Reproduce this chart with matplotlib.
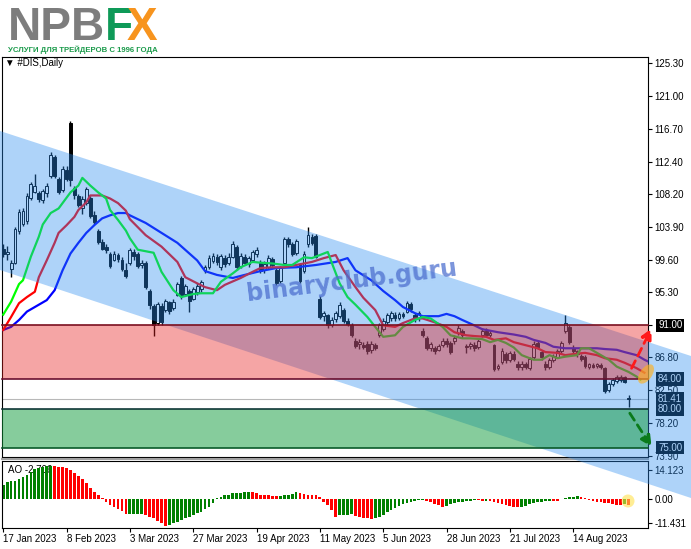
import numpy as np
import matplotlib.pyplot as plt
import matplotlib.transforms as mtransforms
from matplotlib.patches import Polygon, Rectangle, Ellipse, Circle, FancyArrowPatch
from matplotlib.lines import Line2D

plt.rcParams['font.family'] = ['Liberation Sans', 'DejaVu Sans']

#%% Datos (DIS, diario)
open_ = [101.0, 100.3, 98.4, 99.2, 103.4, 104.3, 104.6, 107.7, 108.5, 108.3,
         107.4, 108.3, 110.5, 113.0, 110.2, 108.7, 111.3, 117.5, 109.0, 107.9,
         106.4, 107.0, 107.7, 105.5, 103.4, 101.9, 101.2, 100.4, 99.6, 100.2,
         99.6, 98.3, 99.1, 100.6, 100.3, 98.9, 99.2, 95.5, 93.5, 91.3,
         93.5, 93.0, 94.0, 93.3, 95.0, 97.2, 95.1, 95.5, 94.5, 95.3,
         95.7, 98.2, 98.7, 99.4, 100.0, 98.6, 99.8, 99.2, 100.0, 101.2,
         98.8, 100.0, 99.0, 99.6, 100.3, 99.3, 98.2, 98.7, 99.7, 98.3,
         96.8, 99.2, 102.3, 101.6, 100.5, 98.9, 98.1, 101.6, 102.6, 102.7,
         94.5, 92.2, 92.3, 91.1, 91.8, 92.2, 93.0, 91.6, 91.0, 89.0,
         88.5, 88.4, 88.6, 87.8, 88.4, 89.8, 90.5, 91.5, 91.9, 92.4,
         91.9, 92.5, 92.8, 93.8, 92.3, 91.9, 90.3, 89.3, 88.0, 88.0,
         87.8, 88.4, 88.9, 88.7, 88.9, 90.0, 90.2, 88.3, 88.3, 88.4,
         88.2, 89.8, 90.3, 89.8, 88.4, 85.4, 86.2, 87.2, 86.5, 87.3,
         86.0, 85.5, 85.9, 85.4, 86.8, 88.7, 87.5, 86.0, 85.5, 86.5,
         86.9, 87.6, 90.2, 90.8, 88.1, 87.6, 87.0, 86.9, 85.6, 85.8,
         85.7, 85.8, 85.4, 82.6, 83.3, 83.7, 83.9, 84.2, 81.5]
high = [101.6, 101.4, 99.5, 103.9, 106.2, 106.4, 108.3, 109.8, 110.8, 108.6,
        108.9, 109.6, 113.7, 113.3, 110.4, 111.9, 111.8, 117.7, 109.2, 108.2,
        107.9, 109.1, 107.9, 105.9, 103.6, 102.3, 101.6, 100.6, 100.7, 100.5,
        99.9, 99.1, 101.1, 101.0, 100.6, 99.5, 99.4, 95.7, 93.8, 94.1,
        93.9, 94.5, 94.2, 94.4, 96.7, 97.5, 96.4, 95.8, 96.0, 96.5,
        97.0, 98.9, 100.2, 100.5, 100.4, 100.4, 100.2, 100.5, 102.0, 101.5,
        100.5, 100.3, 100.1, 100.8, 101.3, 99.6, 99.4, 100.2, 100.0, 98.5,
        98.8, 102.6, 102.6, 101.9, 102.3, 99.2, 100.7, 103.9, 103.0, 103.0,
        94.8, 92.9, 92.5, 92.1, 92.9, 94.0, 93.3, 91.9, 91.3, 89.3,
        89.2, 88.8, 88.9, 88.9, 88.7, 91.3, 91.9, 92.6, 92.9, 92.7,
        92.8, 92.8, 94.2, 94.1, 92.6, 92.9, 90.6, 89.6, 88.8, 88.3,
        88.6, 89.3, 89.3, 89.0, 89.7, 91.0, 90.5, 88.6, 88.8, 88.8,
        89.2, 90.7, 90.6, 90.4, 88.6, 86.0, 88.0, 87.5, 87.7, 87.6,
        86.3, 86.3, 86.2, 86.9, 88.9, 89.0, 87.8, 86.3, 86.7, 87.3,
        87.9, 89.0, 92.3, 91.0, 88.4, 87.8, 87.3, 87.1, 86.1, 86.1,
        86.1, 86.1, 85.6, 83.6, 84.1, 84.5, 84.5, 84.4, 81.9]
low = [99.9, 99.6, 97.3, 99.0, 103.0, 104.0, 104.2, 107.4, 108.3, 107.2,
       107.0, 107.8, 110.3, 110.3, 108.2, 108.5, 109.9, 109.2, 107.6, 106.5,
       105.6, 106.7, 105.1, 104.2, 101.7, 100.8, 100.5, 98.5, 99.4, 99.3,
       98.1, 97.2, 98.9, 99.6, 98.5, 98.5, 95.8, 93.2, 89.6, 91.0,
       91.1, 92.8, 92.5, 93.0, 94.8, 94.5, 94.9, 92.7, 94.3, 95.0,
       95.4, 97.8, 98.4, 99.1, 98.9, 98.3, 98.7, 98.9, 99.8, 98.3,
       98.5, 98.9, 98.7, 99.3, 100.0, 97.8, 97.9, 98.4, 98.5, 96.3,
       96.5, 99.0, 101.3, 100.1, 100.2, 96.5, 97.8, 101.3, 101.5, 99.8,
       91.8, 91.6, 90.7, 90.8, 91.5, 92.0, 91.3, 90.9, 89.5, 88.0,
       87.9, 87.9, 87.3, 87.4, 87.8, 89.5, 90.2, 91.1, 91.6, 91.6,
       91.7, 91.9, 92.6, 92.8, 91.5, 91.6, 89.5, 87.8, 87.7, 87.3,
       87.6, 88.2, 88.2, 87.2, 88.6, 89.8, 89.4, 87.4, 87.9, 87.7,
       87.9, 89.5, 89.5, 89.5, 85.0, 85.1, 86.0, 86.1, 86.2, 86.3,
       85.2, 85.2, 85.3, 85.2, 86.6, 87.9, 86.5, 85.2, 85.3, 86.2,
       86.7, 87.4, 90.0, 88.5, 87.3, 86.8, 86.3, 85.4, 85.3, 85.4,
       85.4, 85.3, 82.1, 82.3, 83.1, 83.5, 83.6, 83.4, 80.3]
close = [100.3, 100.6, 99.2, 103.6, 105.8, 106.0, 107.9, 109.5, 109.2, 107.5,
         108.6, 109.3, 113.3, 110.6, 108.5, 111.5, 110.2, 110.0, 108.0, 106.8,
         107.6, 108.8, 105.3, 104.5, 101.9, 101.0, 100.8, 98.8, 100.4, 99.7,
         98.4, 97.5, 100.8, 100.1, 98.8, 99.2, 96.0, 93.6, 91.0, 93.8,
         91.5, 94.2, 92.9, 94.1, 96.4, 94.8, 96.1, 94.2, 95.7, 96.2,
         96.7, 98.6, 99.8, 100.1, 99.3, 100.1, 99.0, 100.0, 101.7, 98.6,
         100.1, 99.2, 99.8, 100.6, 100.9, 98.1, 99.0, 99.8, 98.9, 96.6,
         98.5, 102.3, 101.6, 100.4, 102.0, 96.8, 100.4, 102.8, 101.8, 100.0,
         92.1, 92.6, 91.0, 91.7, 92.6, 93.6, 91.6, 91.2, 89.8, 88.3,
         88.8, 88.2, 87.6, 88.5, 88.1, 91.0, 91.6, 92.3, 92.6, 91.9,
         92.5, 92.2, 93.9, 93.1, 91.8, 92.6, 89.8, 88.0, 88.5, 87.6,
         88.3, 89.0, 88.5, 87.5, 89.4, 90.7, 89.7, 88.2, 88.5, 88.0,
         88.9, 90.3, 89.8, 90.0, 85.3, 85.7, 87.7, 86.4, 87.4, 86.6,
         85.5, 86.0, 85.6, 86.6, 88.6, 88.2, 86.8, 85.5, 86.4, 87.0,
         87.6, 88.7, 91.3, 88.8, 87.6, 87.2, 86.6, 85.7, 85.9, 85.6,
         85.9, 85.5, 82.4, 83.3, 83.9, 84.2, 84.2, 83.6, 81.4]

# Alligator (desplazado hacia adelante)
jaw_x = [0, 2, 4, 6, 8, 11, 13, 15, 17, 19, 21, 23, 25, 27, 29, 31, 32, 36, 40, 44,
         49, 51, 54, 58, 61, 65, 69, 74, 79, 84, 87, 89, 93, 96, 99, 101, 104, 106, 110, 112,
         114, 116, 119, 121, 125, 129, 132, 134, 137, 139, 142, 145, 150, 152, 155, 157, 160, 162, 164]
jaw_y = [90.4, 90.8, 91.7, 92.8, 93.4, 94.3, 95.6, 98.2, 100.4, 101.8, 103.1, 104.1, 105.0, 105.4, 105.7, 105.7, 105.4, 104.4, 103.1, 101.8,
         99.5, 98.1, 97.6, 97.2, 97.6, 98.1, 98.5, 98.6, 98.9, 99.3, 99.8, 98.2, 96.9, 95.5, 94.3, 93.4, 92.6, 92.2, 92.2, 92.5,
         92.2, 91.7, 91.0, 90.5, 90.1, 89.8, 89.5, 89.1, 88.7, 88.2, 88.0, 88.0, 88.0, 87.9, 87.8, 87.5, 87.1, 86.5, 86.0]
teeth_x = [0, 2, 4, 6, 8, 9, 11, 13, 14, 16, 18, 19, 21, 22, 25, 27, 29, 31, 32, 36,
           40, 44, 46, 49, 51, 54, 56, 60, 63, 65, 68, 71, 74, 78, 81, 84, 86, 89, 91, 94,
           96, 99, 101, 104, 106, 109, 112, 114, 117, 119, 122, 124, 127, 129, 132, 135, 137, 140, 142, 145,
           147, 150, 152, 155, 157, 160, 162]
teeth_y = [90.4, 92.1, 93.9, 94.7, 95.4, 97.3, 99.5, 101.8, 103.1, 104.1, 105.2, 106.1, 107.1, 108.0, 108.0, 107.6, 107.0, 106.0, 104.9, 102.8,
           101.3, 99.3, 97.3, 96.5, 96.0, 95.6, 96.3, 97.2, 98.0, 98.5, 98.6, 98.6, 98.9, 99.3, 99.8, 100.2, 98.2, 96.0, 94.6, 93.0,
           91.0, 90.8, 91.3, 91.9, 91.9, 91.4, 90.8, 90.1, 89.7, 89.6, 89.5, 89.1, 89.3, 88.8, 88.4, 88.0, 87.5, 87.4, 87.1, 87.3,
           87.4, 87.1, 86.7, 86.5, 86.1, 85.4, 84.8]
lips_x = [0, 2, 4, 5, 7, 9, 10, 12, 14, 16, 17, 19, 20, 22, 24, 26, 27, 29, 31, 32,
          34, 38, 40, 43, 45, 48, 50, 53, 55, 58, 60, 63, 65, 68, 71, 73, 76, 78, 82, 83,
          85, 87, 89, 92, 94, 96, 99, 101, 104, 106, 108, 111, 113, 116, 118, 121, 123, 125, 127, 129,
          131, 134, 136, 138, 140, 142, 145, 146, 148, 150, 153, 155, 158, 160, 161]
lips_y = [92.4, 94.1, 96.4, 96.9, 100.0, 102.6, 104.2, 105.7, 106.3, 107.7, 108.4, 109.3, 110.3, 109.3, 108.4, 107.6, 106.1, 104.8, 103.4, 102.4,
          100.9, 100.5, 98.0, 95.6, 94.7, 95.1, 95.2, 95.2, 96.7, 97.8, 98.6, 99.3, 99.2, 99.1, 98.9, 98.9, 99.9, 99.8, 100.6, 99.2,
          96.5, 94.7, 93.7, 92.1, 90.8, 89.5, 89.7, 90.8, 91.7, 92.1, 91.9, 90.8, 89.7, 89.3, 89.3, 89.2, 88.8, 89.1, 88.7, 88.1,
          87.1, 86.5, 86.5, 87.1, 86.7, 86.9, 87.1, 88.0, 88.0, 87.4, 86.5, 85.6, 84.9, 84.3, 83.9]

# Awesome Oscillator
ao = [6.8, 8.4, 8.7, 8.9, 9.9, 10.8, 11.9, 13.2, 14.4, 15.1,
      15.5, 15.9, 16.1, 15.8, 15.6, 15.3, 14.9, 14.2, 12.8, 11.4,
      9.8, 7.8, 5.6, 3.7, 2.0, 0.4, -1.1, -2.7, -3.7, -4.7,
      -5.8, -7.1, -7.0, -6.95, -6.9, -6.85, -7.4, -8.3, -9.2, -10.2,
      -11.3, -12.6, -12.4, -11.6, -10.8, -10.0, -9.2, -8.4, -7.6, -6.8,
      -5.9, -4.8, -3.5, -1.9, 0.4, 1.2, 2.0, 2.3, 2.8, 3.0,
      3.2, 3.3, 3.4, 3.3, 2.8, 2.3, 2.0, 1.9, 1.7, 1.6,
      1.8, 2.2, 2.3, 2.5, 3.3, 2.8, 2.4, 2.3, 2.2, 2.0,
      1.2, -1.1, -2.7, -5.1, -8.3, -7.6, -7.5, -7.4, -7.3, -8.0,
      -8.5, -8.9, -9.2, -9.4, -9.1, -8.3, -7.4, -6.2, -5.1, -4.0,
      -3.0, -2.4, -1.6, -1.1, -0.8, -0.5, -0.3, -0.8, -1.4, -2.1,
      -2.7, -3.5, -3.0, -2.4, -1.9, -1.4, -1.1, -0.8, -0.6, -0.4,
      -0.5, -0.7, -0.6, -0.8, -1.1, -1.6, -2.2, -2.7, -3.2, -3.5,
      -3.8, -3.6, -3.0, -2.4, -1.9, -1.4, -1.1, -0.8, -0.7, -0.8,
      -0.9, 0.1, 0.6, 1.0, 1.3, 1.4, 1.0, 0.6, -0.2, -0.7,
      -1.1, -1.4, -1.7, -2.0, -2.3, -2.6, -2.8, -2.5, -2.706]

date_pos = [0, 16, 32, 48, 64, 80, 96, 112, 128, 144]
date_lbl = ['17 Jan 2023', '8 Feb 2023', '3 Mar 2023', '27 Mar 2023', '19 Apr 2023',
            '11 May 2023', '5 Jun 2023', '28 Jun 2023', '21 Jul 2023', '14 Aug 2023']

price_ticks = [125.30, 121.00, 116.70, 112.40, 108.20, 103.90, 99.60, 95.30,
               91.00, 86.80, 82.50, 78.20, 73.90]
ao_ticks = [14.123, 0.0, -11.431]
ao_tick_lbl = ['14.123', '0.00', '-11.431']

resist = 91.00
support = 84.00
target_lo = 75.00
target_hi = 80.00
bid = 81.41
boxed = [resist, support, bid, target_hi, target_lo]

#%% Figura
W, H = 691, 549
fig = plt.figure(figsize=(W / 100, H / 100), dpi=100)
fig.patch.set_facecolor('white')


def px(x, y):
    # pixel de imagen -> pulgadas (dpi_scale_trans)
    return (x / 100, (H - y) / 100)


ax = fig.add_axes([2 / W, 1 - 457 / H, 646 / W, 400 / H])
ax.set_facecolor('none')
ao_ax = fig.add_axes([2 / W, 1 - 528 / H, 646 / W, 67 / H])

x0, x1 = -0.3, 162.9
ax.set_xlim(x0, x1)
ax.set_ylim(73.77, 126.12)

idx = np.arange(len(close))
o = np.array(open_)
c = np.array(close)
up = c >= o

ax.axhline(bid, color='#b8b8b8', lw=0.8, zorder=1)
ax.vlines(idx, low, high, color='black', lw=1.0, zorder=2)
ax.bar(idx, np.maximum(np.abs(c - o), 0.12), bottom=np.minimum(o, c), width=0.72,
       color=['white' if u else 'black' for u in up], edgecolor='black',
       linewidth=0.7, zorder=3)

ax.plot(jaw_x, jaw_y, color='#0000ff', lw=1.6, zorder=4)
ax.plot(teeth_x, teeth_y, color='#ff0000', lw=1.6, zorder=4)
ax.plot(lips_x, lips_y, color='#00ff00', lw=1.6, zorder=4)

# la etiqueta normal de 91.00 queda tapada por la caja
ax.set_yticks(price_ticks)
ax.set_yticklabels(['' if t in boxed else '%.2f' % t for t in price_ticks])
ax.tick_params(axis='y', which='both', left=False, labelleft=False, right=True,
               labelright=True, direction='out', length=3, pad=1.5, labelsize=7)
ax.tick_params(axis='x', bottom=False, labelbottom=False)
for s in ax.spines.values():
    s.set_color('black')
    s.set_linewidth(0.8)

# etiquetas en caja del eje derecho
trans = mtransforms.blended_transform_factory(ax.transAxes, ax.transData)
for v in boxed:
    ax.text(1.0155, v, '%.2f' % v, transform=trans, color='white', fontsize=7,
            va='center', ha='left', zorder=6, clip_on=False,
            bbox=dict(boxstyle='square,pad=0.18', fc='black', ec='none'))

#%% AO
ao_ax.set_xlim(x0, x1)
ao_ax.set_ylim(-13.8, 18.4)
ao_col = ['#008000' if (i == 0 or ao[i] > ao[i - 1]) else '#ff0000' for i in range(len(ao))]
ao_ax.bar(idx, ao, width=0.7, color=ao_col, zorder=2)
ao_ax.text(6 / 646, 0.866, 'AO -2.706', transform=ao_ax.transAxes, fontsize=7,
           va='center', ha='left', zorder=1)
ao_ax.set_yticks(ao_ticks)
ao_ax.set_yticklabels(ao_tick_lbl)
ao_ax.tick_params(axis='y', left=False, labelleft=False, right=True, labelright=True,
                  direction='out', length=3, pad=1.5, labelsize=7)
ao_ax.set_xticks(date_pos)
ao_ax.set_xticklabels(date_lbl)
ao_ax.tick_params(axis='x', direction='out', length=3, pad=1.5, labelsize=7)
for lbl in ao_ax.get_xticklabels():
    lbl.set_ha('left')
for s in ao_ax.spines.values():
    s.set_color('black')
    s.set_linewidth(0.8)

# separador entre paneles
fig.add_artist(Line2D([2 / 100, 648 / 100], [(H - 459) / 100] * 2,
                      transform=fig.dpi_scale_trans, color='#a0a0a0', lw=1.5, zorder=1))

#%% Objetos sobre el gráfico
band = Polygon([px(0, 131), px(691, 356), px(691, 498), px(0, 270)], closed=True,
               transform=fig.dpi_scale_trans, facecolor='#2a8cf0', alpha=0.38,
               edgecolor='none', zorder=10)
fig.add_artist(band)

fig.add_artist(Rectangle((x0, support), x1 - x0, resist - support, transform=ax.transData,
                         facecolor='#e61e1e', alpha=0.4, edgecolor='none', zorder=11))
fig.add_artist(Rectangle((x0, target_lo), x1 - x0, target_hi - target_lo, transform=ax.transData,
                         facecolor='#0f9a3a', alpha=0.5, edgecolor='none', zorder=11))
for v, col in [(resist, '#7a1020'), (support, '#6a1030'), (target_hi, '#103838'), (target_lo, '#0a5a2a')]:
    fig.add_artist(Line2D([x0, x1], [v, v], transform=ax.transData, color=col, lw=1.2, zorder=12))

fig.add_artist(Ellipse(px(646, 374), 0.22, 0.12, angle=55, transform=fig.dpi_scale_trans,
                       facecolor='#ffb020', alpha=0.65, edgecolor='none', zorder=12))
fig.add_artist(Circle(px(628, 501), 0.065, transform=fig.dpi_scale_trans,
                      facecolor='#ffe14d', alpha=0.6, edgecolor='none', zorder=12))

fig.add_artist(FancyArrowPatch((158.75, 85.38), (163.8, 90.61), transform=ax.transData,
                               arrowstyle='-|>', mutation_scale=16, color='#ff1a1a', lw=2,
                               linestyle=(0, (3, 2)), shrinkA=0, shrinkB=0, zorder=13))
fig.add_artist(FancyArrowPatch((158.3, 79.5), (163.8, 75.12), transform=ax.transData,
                               arrowstyle='-|>', mutation_scale=16, color='#0a7a1a', lw=2,
                               linestyle=(0, (3, 2)), shrinkA=0, shrinkB=0, zorder=13))

fig.text(352 / W, 1 - 281 / H, 'binaryclub.guru', fontsize=17, fontweight='bold',
         color='#4d6fcf', alpha=0.75, rotation=7, ha='center', va='center',
         family=['DejaVu Sans'], zorder=14)

#%% Logo y título
fig.text(8 / W, 1 - 40 / H, 'NPB', fontsize=33, fontweight='bold', color='#7d7d7d', va='baseline')
fig.text(105 / W, 1 - 40 / H, 'F', fontsize=33, fontweight='bold', color='#0e9a58', va='baseline')
fig.text(127 / W, 1 - 40 / H, 'X', fontsize=33, fontweight='bold', color='#f7941e', va='baseline')
sub = fig.text(8 / W, 1 - 52 / H, 'УСЛУГИ ДЛЯ ТРЕЙДЕРОВ С 1996 ГОДА', fontsize=6.5,
               fontweight='bold', color='#1a9a4a', va='baseline',
               family=['Liberation Sans Narrow', 'Liberation Sans', 'DejaVu Sans'])
fig.text(5 / W, 1 - 63 / H, '▼ #DIS,Daily', fontsize=7, va='center', ha='left')

fig.canvas.draw()
bb = sub.get_window_extent(fig.canvas.get_renderer())
sub.set_fontsize(sub.get_fontsize() * 150 / bb.width)

fig.savefig('out.png', dpi=100)
